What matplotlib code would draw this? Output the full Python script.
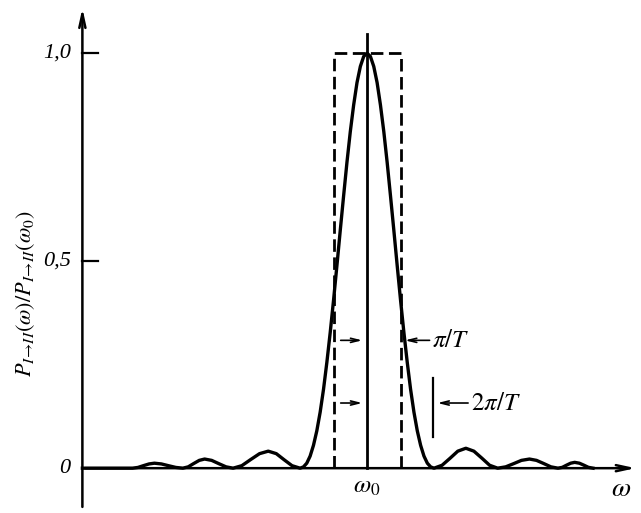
import numpy as np
from matplotlib import pyplot as plt

# frequency offset (w - w0) in units of pi/T, and normalised transition probability
omega = [-8.5, -7.0, -6.84, -6.68, -6.51, -6.35, -6.14, -5.93, -5.71,
         -5.5, -5.34, -5.18, -5.01, -4.85, -4.64, -4.43, -4.21,
         -4.0, -3.74, -3.48, -3.21, -2.95, -2.71, -2.48, -2.24,
         -2.0, -1.9, -1.8, -1.7, -1.6, -1.5, -1.4, -1.3, -1.2, -1.1,
         -1.0, -0.9, -0.8, -0.7, -0.6, -0.5, -0.4, -0.3, -0.2, -0.1,
         0.0, 0.1, 0.2, 0.3, 0.4, 0.5, 0.6, 0.7, 0.8, 0.9,
         1.0, 1.1, 1.2, 1.3, 1.4, 1.5, 1.6, 1.7, 1.8, 1.9,
         2.0, 2.24, 2.48, 2.71, 2.95, 3.19, 3.43, 3.66,
         3.9, 4.14, 4.38, 4.61, 4.85, 5.06, 5.28, 5.49,
         5.7, 5.83, 5.95, 6.08, 6.2, 6.34, 6.48, 6.61, 6.75]
prob = [0.0, 0.0, 0.0018, 0.006, 0.0102, 0.012, 0.0102, 0.006, 0.0018,
        0.0, 0.0032, 0.011, 0.0188, 0.022, 0.0188, 0.011, 0.0032,
        0.0, 0.006, 0.0205, 0.035, 0.041, 0.035, 0.0205, 0.006,
        0.0, 0.003, 0.012, 0.029, 0.055, 0.090, 0.135, 0.190, 0.255, 0.327,
        0.405, 0.488, 0.573, 0.656, 0.737, 0.811, 0.875, 0.929, 0.968, 0.992,
        1.0, 0.992, 0.968, 0.929, 0.875, 0.811, 0.737, 0.656, 0.573, 0.488,
        0.405, 0.327, 0.255, 0.190, 0.135, 0.090, 0.055, 0.029, 0.012, 0.003,
        0.0, 0.007, 0.024, 0.041, 0.048, 0.041, 0.024, 0.007,
        0.0, 0.0032, 0.011, 0.0188, 0.022, 0.0188, 0.011, 0.0032,
        0.0, 0.002, 0.007, 0.012, 0.014, 0.012, 0.007, 0.002, 0.0]

yticks = [0.0, 0.5, 1.0]
ytick_labels = ['0', '0,5', '1,0']
half_width = 1.0   # pi/T
first_zero = 2.0   # 2pi/T

plt.rcParams['mathtext.fontset'] = 'stix'
serif = {'family': 'Liberation Serif', 'style': 'italic'}

fig = plt.figure(figsize=(6.41, 5.13), dpi=100)
ax = fig.add_axes([0, 0, 1, 1])
ax.set_xlim(-10.96, 8.18)
ax.set_ylim(-0.108, 1.128)
ax.axis('off')

x0 = -8.5  # where the vertical axis sits
arr = dict(arrowstyle='->,head_length=1.0,head_width=0.22', lw=1.8, color='black')
ax.annotate('', xy=(8.1, 0), xytext=(x0, 0), arrowprops=arr)
ax.annotate('', xy=(x0, 1.115), xytext=(x0, -0.10), arrowprops=arr)

for yv, lab in zip(yticks, ytick_labels):
    if yv > 0:
        ax.plot([x0, x0 + 0.48], [yv, yv], color='black', lw=1.6)
    ax.text(x0 - 0.35, yv, lab, ha='right', va='center', fontsize=16, **serif)

ax.text(-10.2, 0.42, r'$P_{I\!\rightarrow\!II}(\omega)/P_{I\!\rightarrow\!II}(\omega_0)$',
        rotation=90, ha='center', va='center', fontsize=16)

# curve
ax.plot(omega, prob, color='black', lw=2.4, solid_joinstyle='round')

# dashed rectangle of width 2pi/T
ax.plot([-half_width, -half_width, half_width, half_width], [0, 1, 1, 0],
        color='black', lw=2, ls=(0, (4.5, 2)))
ax.plot([0, 0], [0, 1.045], color='black', lw=2)

# width markers
small = dict(arrowstyle='->,head_length=0.6,head_width=0.15', lw=1.2, color='black')
y1, y2 = 0.308, 0.157
ax.annotate('', xy=(-0.06, y1), xytext=(-0.87, y1), arrowprops=small)
ax.annotate('', xy=(half_width + 0.05, y1), xytext=(1.95, y1), arrowprops=small)
ax.text(1.95, y1, r'$\pi/T$', ha='left', va='center', fontsize=18)

ax.annotate('', xy=(-0.06, y2), xytext=(-0.87, y2), arrowprops=small)
ax.plot([first_zero - 0.03] * 2, [0.075, 0.217], color='black', lw=1.6)
ax.annotate('', xy=(first_zero + 0.02, y2), xytext=(3.1, y2), arrowprops=small)
ax.text(3.1, y2, r'$2\pi/T$', ha='left', va='center', fontsize=18)

ax.text(0, -0.015, r'$\omega_0$', ha='center', va='top', fontsize=18)
ax.text(7.6, -0.015, r'$\omega$', ha='center', va='top', fontsize=20)

plt.savefig('out.png', dpi=100)
